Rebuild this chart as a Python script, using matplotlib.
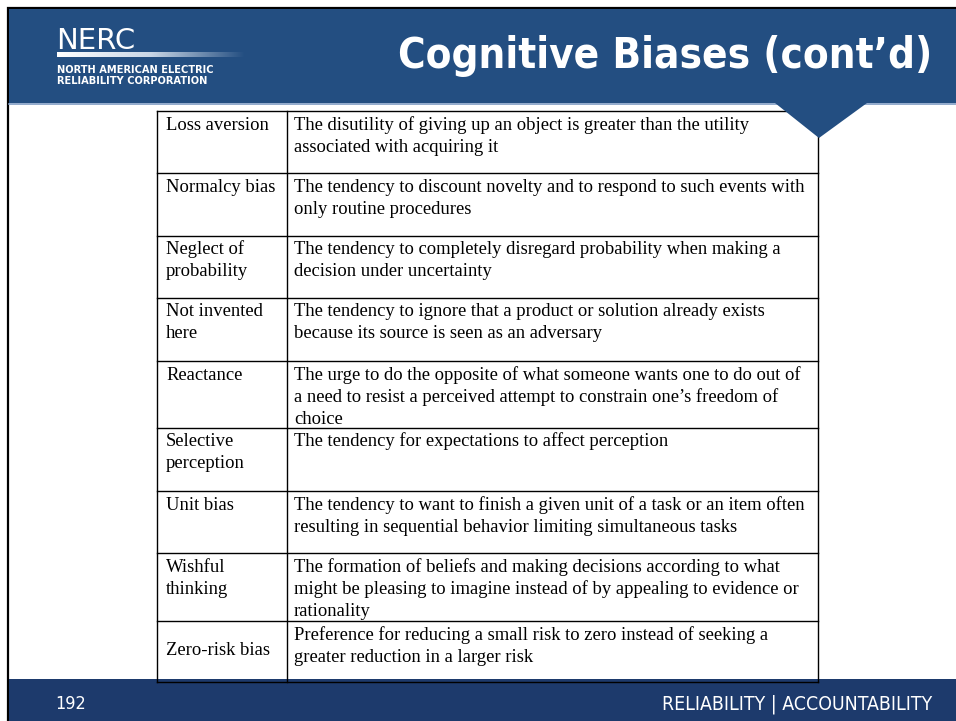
import numpy as np
import matplotlib
matplotlib.use("Agg")
import matplotlib.pyplot as plt
from matplotlib.patches import Rectangle, Polygon

# =========================================================
# slide content
# =========================================================
TITLE = "Cognitive Biases (cont\u2019d)"
PAGE_NUMBER = "192"
FOOTER_TEXT = "RELIABILITY | ACCOUNTABILITY"
LOGO_NAME = "NERC"
LOGO_LINES = ["NORTH AMERICAN ELECTRIC", "RELIABILITY CORPORATION"]

biases = [
    "Loss aversion",
    "Normalcy bias",
    "Neglect of\nprobability",
    "Not invented\nhere",
    "Reactance",
    "Selective\nperception",
    "Unit bias",
    "Wishful\nthinking",
    "Zero-risk bias",
]

descriptions = [
    "The disutility of giving up an object is greater than the utility\n"
    "associated with acquiring it",
    "The tendency to discount novelty and to respond to such events with\n"
    "only routine procedures",
    "The tendency to completely disregard probability when making a\n"
    "decision under uncertainty",
    "The tendency to ignore that a product or solution already exists\n"
    "because its source is seen as an adversary",
    "The urge to do the opposite of what someone wants one to do out of\n"
    "a need to resist a perceived attempt to constrain one\u2019s freedom of\n"
    "choice",
    "The tendency for expectations to affect perception",
    "The tendency to want to finish a given unit of a task or an item often\n"
    "resulting in sequential behavior limiting simultaneous tasks",
    "The formation of beliefs and making decisions according to what\n"
    "might be pleasing to imagine instead of by appealing to evidence or\n"
    "rationality",
    "Preference for reducing a small risk to zero instead of seeking a\n"
    "greater reduction in a larger risk",
]

# =========================================================
# layout (pixels, y grows downward)
# =========================================================
W, H = 956, 721
ROW_EDGES = [111, 173, 236, 298, 361, 428, 491, 553, 621, 682]
COL_EDGES = [157, 287, 818]
LINE_STEP = 22
HEADER_BLUE = "#234E81"
FOOTER_BLUE = "#1D3A6C"
SERIF = ["Liberation Serif", "DejaVu Serif"]


def fit_width(fig, t, target):
    # scale the font so the text spans the target width in pixels
    r = fig.canvas.get_renderer()
    w = t.get_window_extent(r).width
    t.set_fontsize(t.get_fontsize() * target / w)


fig = plt.figure(figsize=(W / 100, H / 100), dpi=100)
ax = fig.add_axes([0, 0, 1, 1])
ax.set_xlim(0, W)
ax.set_ylim(H, 0)
ax.axis("off")

# ---------------------------------------------------------
# slide frame, header, footer
# ---------------------------------------------------------
ax.add_patch(Rectangle((8, 8), W, H, facecolor="white", edgecolor="black", lw=1.6, zorder=0))
ax.add_patch(Rectangle((9, 9), W, 94, facecolor=HEADER_BLUE, edgecolor="none", zorder=1))
ax.plot([9, W], [103.8, 103.8], color="#7F9CC4", lw=1.2, zorder=1)
ax.add_patch(Rectangle((9, 679), W, 50, facecolor=FOOTER_BLUE, edgecolor="none", zorder=1))

# NERC logo
ax.text(56, 49, LOGO_NAME, color="white", fontsize=21, family="DejaVu Sans",
        va="baseline", ha="left", zorder=3)
grad = np.linspace(0, 1, 256).reshape(1, -1)
cmap = matplotlib.colors.LinearSegmentedColormap.from_list("fade", ["white", "#C9D6E6", HEADER_BLUE])
ax.imshow(grad, extent=(57, 245, 57, 52), cmap=cmap, aspect="auto", zorder=3)
for i, line in enumerate(LOGO_LINES):
    ax.text(57, 73 + 10.5 * i, line, color="white", fontsize=7.1, family="DejaVu Sans",
            fontweight="bold", va="baseline", ha="left", zorder=3)

# title
title = ax.text(932, 56, TITLE, color="white", fontsize=26, fontweight="bold",
                family="DejaVu Sans", fontstretch="condensed", ha="right", va="center", zorder=3)
fig.canvas.draw()
fit_width(fig, title, 534)

# footer
ax.text(55, 704, PAGE_NUMBER, color="white", fontsize=13, family="DejaVu Sans",
        fontstretch="condensed", ha="left", va="center", zorder=3)
foot = ax.text(932, 704, FOOTER_TEXT, color="white", fontsize=12,
               family=["Liberation Sans Narrow", "DejaVu Sans"], fontstretch="condensed",
               ha="right", va="center", zorder=3)
fig.canvas.draw()
fit_width(fig, foot, 270)

# ---------------------------------------------------------
# table
# ---------------------------------------------------------
for y in ROW_EDGES:
    ax.plot([COL_EDGES[0], COL_EDGES[-1]], [y, y], color="black", lw=1.0,
            solid_capstyle="projecting", zorder=4)
for x in COL_EDGES:
    ax.plot([x, x], [ROW_EDGES[0], ROW_EDGES[-1]], color="black", lw=1.0,
            solid_capstyle="projecting", zorder=4)

for i, (name, desc) in enumerate(zip(biases, descriptions)):
    top, bottom = ROW_EDGES[i], ROW_EDGES[i + 1]
    name_lines = name.split("\n")
    if i == len(biases) - 1:
        # last label sits in the middle of its row
        base = (top + bottom) / 2 + 3.5 - LINE_STEP * (len(name_lines) - 1) / 2
    else:
        base = top + 18.5
    for k, line in enumerate(name_lines):
        ax.text(COL_EDGES[0] + 9, base + k * LINE_STEP, line, family=SERIF, fontsize=13.4,
                color="black", va="baseline", ha="left", zorder=5)
    for k, line in enumerate(desc.split("\n")):
        ax.text(COL_EDGES[1] + 7, top + 18.5 + k * LINE_STEP, line, family=SERIF, fontsize=13.4,
                color="black", va="baseline", ha="left", zorder=5)

# pointer under the header, drawn over the table edge
ax.add_patch(Polygon([(775, 103), (867, 103), (819, 138)], closed=True,
                     facecolor=HEADER_BLUE, edgecolor="none", zorder=6))

fig.savefig("out.png", dpi=100)
plt.close(fig)
